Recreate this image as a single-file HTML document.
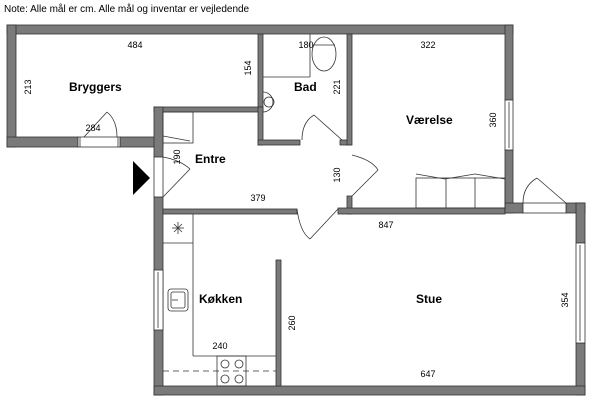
<!DOCTYPE html>
<html><head><meta charset="utf-8"><style>
html,body{margin:0;padding:0;background:#fff;width:600px;height:405px;overflow:hidden}
svg{display:block}
text{font-family:"Liberation Sans",sans-serif;fill:#000}
.d{font-size:9px}
.r{font-size:12px;font-weight:bold}
</style></head><body>
<svg width="600" height="405" viewBox="0 0 600 405">
<text x="4" y="12" style="font-size:10px">Note: Alle mål er cm. Alle mål og inventar er vejledende</text>
<g fill="#7a7a7a" stroke="#333" stroke-width="0.8">
<rect x="7" y="25" width="506" height="9"/>
<rect x="7" y="25" width="9" height="122"/>
<rect x="7" y="137" width="71" height="10"/>
<rect x="120" y="137" width="43" height="10"/>
<rect x="258" y="34" width="5" height="78"/>
<rect x="154" y="107" width="109" height="5"/>
<rect x="154" y="107" width="9" height="50"/>
<rect x="154" y="197" width="9" height="198"/>
<rect x="258" y="107" width="5" height="38"/>
<rect x="258" y="140" width="42" height="5"/>
<rect x="340" y="140" width="11" height="5"/>
<rect x="347" y="34" width="5" height="111"/>
<rect x="347" y="196" width="5" height="18"/>
<rect x="163" y="209" width="134" height="5"/>
<rect x="338" y="208" width="167" height="6"/>
<rect x="505" y="25" width="8" height="75"/>
<rect x="505" y="150" width="8" height="63"/>
<rect x="505" y="203" width="18" height="10"/>
<rect x="566" y="203" width="19" height="10"/>
<rect x="576" y="203" width="9" height="40"/>
<rect x="576" y="343" width="9" height="52"/>
<rect x="154" y="386" width="431" height="9"/>
<rect x="276" y="260" width="5" height="126"/>
</g>
<g fill="#fff" stroke="#333" stroke-width="0.8">
<rect x="78" y="137" width="42" height="10"/><line x1="80" y1="137" x2="80" y2="147"/><line x1="118" y1="137" x2="118" y2="147"/>
<rect x="505" y="100" width="8" height="50"/><line x1="509" y1="102" x2="509" y2="148"/>
<rect x="576" y="243" width="9" height="100"/><line x1="580" y1="245" x2="580" y2="341"/>
<rect x="154" y="270" width="9" height="60"/><line x1="158" y1="272" x2="158" y2="328"/>
<rect x="154" y="157" width="9" height="40"/>
<rect x="523" y="203" width="43" height="10"/>
</g>
<g fill="none" stroke="#333" stroke-width="0.8">
<line x1="84" y1="137" x2="107" y2="112"/><path d="M107 112 Q117 120 117 137"/>
<line x1="163" y1="197" x2="190" y2="169"/><path d="M163 157 Q180 160 190 169"/>
<rect x="163" y="112" width="30" height="31"/><line x1="163" y1="136" x2="190" y2="141"/>
<line x1="342" y1="140" x2="314" y2="115"/><path d="M302 140 Q302 122 314 115"/>
<line x1="352" y1="196" x2="378" y2="170"/><path d="M352 155 Q372 160 378 170"/>
<line x1="338" y1="209" x2="310" y2="239"/><path d="M297 209 Q300 232 310 239"/>
<line x1="566" y1="203" x2="537" y2="178"/><path d="M523 203 Q523 186 537 178"/>
<rect x="416" y="178" width="89" height="30"/><line x1="446" y1="178" x2="446" y2="208"/><line x1="475" y1="178" x2="475" y2="208"/>
<line x1="416" y1="174" x2="445" y2="179"/><line x1="445" y1="179" x2="475" y2="174"/><line x1="475" y1="174" x2="505" y2="179"/>
<line x1="263" y1="77" x2="310" y2="77"/><line x1="310" y1="34" x2="310" y2="77"/>
<ellipse cx="324" cy="54" rx="12" ry="17"/><line x1="313" y1="45" x2="335" y2="45"/>
<path d="M263 92 A10 10 0 0 1 263 112"/><circle cx="269" cy="102" r="5"/>
<line x1="193" y1="214" x2="193" y2="356"/><line x1="193" y1="356" x2="276" y2="356"/><line x1="163" y1="243" x2="193" y2="243"/>
<rect x="168" y="289" width="20" height="22" rx="3"/><rect x="171" y="292" width="14" height="16" rx="2"/>
<line x1="172" y1="300" x2="178" y2="300"/>
<line x1="172" y1="228" x2="184" y2="228"/><line x1="178" y1="222" x2="178" y2="234"/><line x1="174" y1="224" x2="182" y2="232"/><line x1="182" y1="224" x2="174" y2="232"/>
<rect x="217" y="356" width="29" height="30"/>
<circle cx="225" cy="364" r="4"/><circle cx="239" cy="364" r="4"/><circle cx="225" cy="379" r="4"/><circle cx="239" cy="379" r="4"/>
<line x1="163" y1="371" x2="276" y2="371" stroke-dasharray="6,4"/>
</g>
<polygon points="133,161 150,178 133,195" fill="#000"/>
<g class="r">
<text x="69" y="91">Bryggers</text>
<text x="294" y="91">Bad</text>
<text x="406" y="124">Værelse</text>
<text x="195" y="163">Entre</text>
<text x="199" y="303">Køkken</text>
<text x="416" y="303">Stue</text>
</g>
<g class="d" text-anchor="middle">
<text x="135" y="48">484</text>
<text x="93" y="131">284</text>
<text x="306" y="48">180</text>
<text x="428" y="48">322</text>
<text x="258" y="201">379</text>
<text x="386" y="228">847</text>
<text x="220" y="349">240</text>
<text x="428" y="377">647</text>
<text transform="translate(31,87) rotate(-90)">213</text>
<text transform="translate(251,68) rotate(-90)">154</text>
<text transform="translate(340,87) rotate(-90)">221</text>
<text transform="translate(496,120) rotate(-90)">360</text>
<text transform="translate(180,157) rotate(-90)">190</text>
<text transform="translate(340,175) rotate(-90)">130</text>
<text transform="translate(295,323) rotate(-90)">260</text>
<text transform="translate(568,300) rotate(-90)">354</text>
</g>
</svg>
</body></html>
